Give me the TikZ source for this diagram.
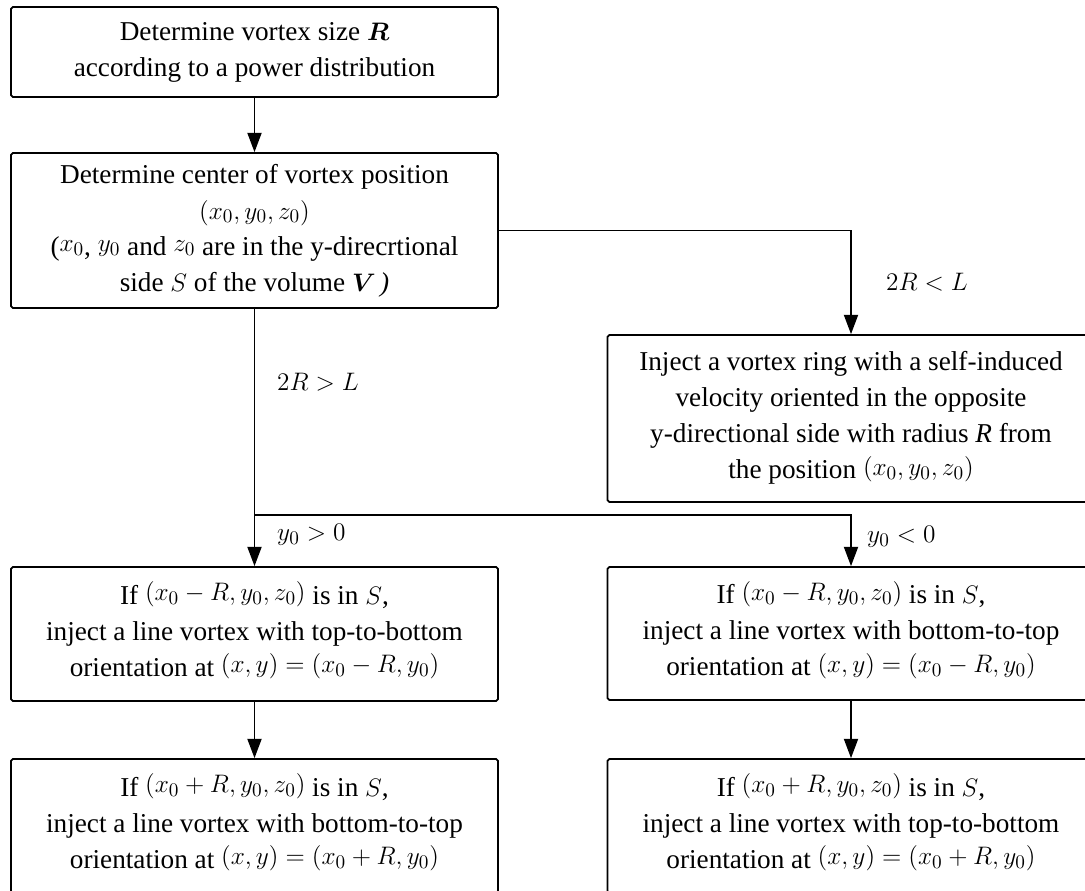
\documentclass[tikz,border=0pt]{standalone}
\usepackage{amsmath, amssymb}
\usepackage{fontspec}
\setmainfont{Liberation Serif}
\usepackage{tikz}
\usetikzlibrary{arrows.meta}

\newcommand{\upm}[1]{\raisebox{2pt}[\height][\depth]{$#1$}}

\begin{document}
\begin{tikzpicture}[x=0.02cm, y=-0.02cm, every node/.style={font=\fontsize{15.5}{20.5}\selectfont}]
            % Styles
            \tikzstyle{stepbox} = [rectangle, draw=black, line width=1pt, rounded corners=1pt, align=center, minimum width=9.74cm, inner sep=0pt]
            \tikzstyle{flow} = [-{Triangle[width=8pt, length=11pt]}, line width=1pt]

            \useasboundingbox (0,0) rectangle (1085,890);
            \clip (0,0) rectangle (1085,890);

            % Nodes: left column
            \node[stepbox, minimum height=1.8cm] (size) at (254.5,52) {Determine vortex size $\boldsymbol{R}$\\ according to a power distribution};
            \node[stepbox, minimum height=3.1cm] (center) at (254.5,230.5) {Determine center of vortex position\\ $(x_0, y_0, z_0)$\\ (\upm{x_0}, \upm{y_0} and \upm{z_0} are in the y-direcrtional\\ side $S$ of the volume $\boldsymbol{V}$\,\textit{)}};
            \node[stepbox, minimum height=2.68cm] (leftA) at (254.5,634) {If \upm{(x_0-R, y_0, z_0)} is in $S$,\\ inject a line vortex with top-to-bottom\\ orientation at \upm{(x,y)=(x_0-R, y_0)}};
            \node[stepbox, minimum height=2.68cm] (leftB) at (254.5,826) {If \upm{(x_0+R, y_0, z_0)} is in $S$,\\ inject a line vortex with bottom-to-top\\ orientation at \upm{(x,y)=(x_0+R, y_0)}};

            % Nodes: right column
            \node[stepbox, minimum height=3.34cm] (ring) at (851,418.5) {Inject a vortex ring with a self-induced\\ velocity oriented in the opposite\\ y-directional side with radius \textit{R} from\\ the position \upm{(x_0, y_0, z_0)}};
            \node[stepbox, minimum height=2.66cm] (rightA) at (851,633.5) {If \upm{(x_0-R, y_0, z_0)} is in $S$,\\ inject a line vortex with bottom-to-top\\ orientation at \upm{(x,y)=(x_0-R, y_0)}};
            \node[stepbox, minimum height=2.68cm] (rightB) at (851,826) {If \upm{(x_0+R, y_0, z_0)} is in $S$,\\ inject a line vortex with top-to-bottom\\ orientation at \upm{(x,y)=(x_0+R, y_0)}};

            % Branch point
            \coordinate (split) at (254.5,515);

            % Edges
            \draw[flow] (size) -- (center);
            \draw[flow] (center.east) -| (ring.north);
            \draw[line width=1pt] (center.south) -- (split);
            \draw[flow] (split) -- (leftA.north);
            \draw[flow] (split) -| (rightA.north);
            \draw[flow] (leftA) -- (leftB);
            \draw[flow] (rightA) -- (rightB);

            % Edge labels
            \node[anchor=west] (small) at (880,282) {$2R<L$};
            \node[anchor=west] (large) at (271,382) {$2R>L$};
            \node[anchor=west] (ypos) at (271,535) {$y_0>0$};
            \node[anchor=west] (yneg) at (861,537) {$y_0<0$};
        \end{tikzpicture}
\end{document}
